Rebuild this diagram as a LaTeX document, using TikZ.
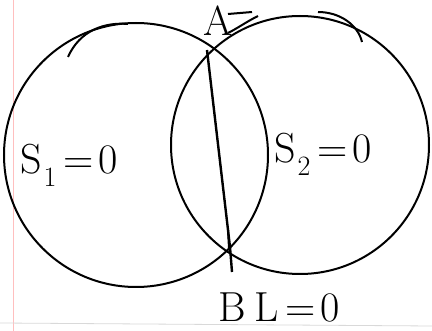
\documentclass[tikz,border=0pt]{standalone}
\usepackage{fontspec}
\newcommand{\eqs}{\hspace{7pt}=\hspace{5pt}}
\begin{document}
\begin{tikzpicture}[x=1pt,y=-1pt,
  ink/.style={line width=2pt,black},
  faint/.style={line width=0.8pt,red!25},
  lbl/.style={font=\fontsize{42}{46}\selectfont,inner sep=0pt,anchor=base west}]
\useasboundingbox (0,0) rectangle (432,331);
\fill[white] (0,0) rectangle (432,331);
\draw[faint] (13,0) -- (13,331);
\draw[faint,black!15] (0,323) -- (432,326);
% circles
\draw[ink] (136,155) circle[radius=132];
\draw[ink] (300,145) circle[radius=129];
% extra sketch strokes
\draw[ink] (68,57) .. controls (80,30) and (105,22) .. (128,24);
\draw[ink] (318,12) .. controls (340,12) and (358,25) .. (362,42);
\coordinate (A) at (207,50);
\coordinate (B) at (230,247);
\coordinate (Lend) at (232,272);
\draw[ink,line width=2.4pt] (A) -- (B) -- (Lend);
\draw[ink] (228,230) -- (229,248);
\draw[ink] (228,14) -- (252,12);
\draw[ink] (228,33) .. controls (238,28) and (246,22) .. (258,16);
% labels
\node[lbl] (la) at (203,36) {A};
\node[lbl] (ls1) at (20,174) {S\raisebox{-0.3em}{\fontsize{28}{30}\selectfont\hspace{2pt}1}\eqs 0};
\node[lbl] (ls2) at (274,163) {S\raisebox{-0.3em}{\fontsize{28}{30}\selectfont\hspace{2pt}2}\eqs 0};
\node[lbl] (lb) at (218,322) {B};
\node[lbl] (ll) at (254,322) {L\eqs 0};
\end{tikzpicture}
\end{document}
